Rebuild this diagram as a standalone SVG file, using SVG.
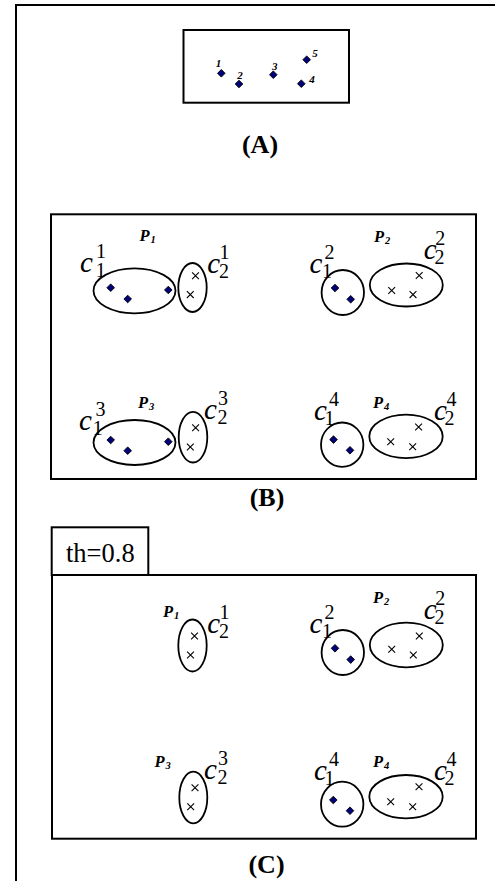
<svg xmlns="http://www.w3.org/2000/svg" xmlns:xlink="http://www.w3.org/1999/xlink" width="495" height="881" viewBox="0 0 495 881">
<style>
.fr{fill:none;stroke:#000;stroke-width:2}
.cl{fill:none;stroke:#000;stroke-width:1.8}
.d{fill:#00007a;stroke:#000;stroke-width:0.9}
.x{fill:none;stroke:#000;stroke-width:1.1}
text{font-family:"Liberation Serif","Times New Roman",serif;fill:#000}
.c{font-size:29px;font-style:italic}
.s{font-size:20px}
.P{font-size:16.5px;font-weight:bold;font-style:italic}
.Ps{font-size:10.5px;font-weight:bold;font-style:italic}
.lab{font-size:26px;font-weight:bold;text-anchor:middle}
.num{font-size:11px;font-weight:bold;font-style:italic;text-anchor:middle}
.th{font-size:26.5px}
</style>
<defs>
<polygon id="dm" class="d" points="0,-3.8 3.8,0 0,3.8 -3.8,0"/>
<path id="xm" class="x" d="M-3.4,-3.4L3.4,3.4M3.4,-3.4L-3.4,3.4"/>
</defs>
<rect width="495" height="881" fill="#fff"/>
<path class="fr" d="M16,881V5H495"/>

<g id="panelA">
<rect class="fr" x="183.5" y="30" width="165.5" height="72.7"/>
<use href="#dm" x="221.3" y="73.3"/>
<use href="#dm" x="239" y="84"/>
<use href="#dm" x="273.3" y="74.7"/>
<use href="#dm" x="301.3" y="83.7"/>
<use href="#dm" x="306.7" y="59.7"/>
<text class="num" x="218.5" y="67">1</text>
<text class="num" x="240" y="79">2</text>
<text class="num" x="274.7" y="70">3</text>
<text class="num" x="312" y="83">4</text>
<text class="num" x="315" y="57">5</text>
<text class="lab" x="260" y="153">(A)</text>
</g>

<g id="panelB">
<rect class="fr" x="51" y="214.3" width="425" height="264.7"/>
<g id="B-P1">
<text class="P" x="139.5" y="241">P</text><text class="Ps" x="150.5" y="243">1</text>
<ellipse class="cl" cx="134.5" cy="290.8" rx="41" ry="22.5"/>
<use href="#dm" x="110.7" y="287.7"/><use href="#dm" x="127.7" y="299"/><use href="#dm" x="168.3" y="290"/>
<text class="c" x="80" y="272">c</text><text class="s" x="96.1" y="258">1</text><text class="s" x="95.8" y="277">1</text>
<ellipse class="cl" cx="192.5" cy="287.5" rx="14.2" ry="24.5"/>
<use href="#xm" x="195.5" y="275.8"/><use href="#xm" x="190.3" y="294.6"/>
<text class="c" x="207.3" y="272.5">c</text><text class="s" x="219.5" y="258.5">1</text><text class="s" x="218.9" y="277.5">2</text>
</g>
<g id="B-P2">
<text class="P" x="374" y="242">P</text><text class="Ps" x="385" y="244">2</text>
<ellipse class="cl" cx="342.8" cy="292.5" rx="21.2" ry="22.5"/>
<use href="#dm" x="335" y="288"/><use href="#dm" x="350.7" y="299.3"/>
<text class="c" x="309.5" y="272.5">c</text><text class="s" x="324.4" y="258.5">2</text><text class="s" x="322" y="277.5">1</text>
<ellipse class="cl" cx="406.3" cy="285" rx="36.5" ry="21.5"/>
<use href="#xm" x="419.2" y="275.5"/><use href="#xm" x="391.7" y="290.5"/><use href="#xm" x="413" y="294.6"/>
<text class="c" x="423.7" y="259">c</text><text class="s" x="435.3" y="245">2</text><text class="s" x="434.4" y="264">2</text>
</g>
<g id="B-P3">
<text class="P" x="138" y="408.3">P</text><text class="Ps" x="149" y="410.3">3</text>
<ellipse class="cl" cx="134.5" cy="442.5" rx="41" ry="22.5"/>
<use href="#dm" x="110.7" y="440"/><use href="#dm" x="127.7" y="450.7"/><use href="#dm" x="168.3" y="441.7"/>
<text class="c" x="79" y="430">c</text><text class="s" x="95.5" y="416">3</text><text class="s" x="92.8" y="435">1</text>
<ellipse class="cl" cx="193" cy="437.2" rx="14.3" ry="25.3"/>
<use href="#xm" x="195.6" y="427.7"/><use href="#xm" x="190.3" y="447"/>
<text class="c" x="204" y="419">c</text><text class="s" x="218" y="405">3</text><text class="s" x="217.4" y="424">2</text>
</g>
<g id="B-P4">
<text class="P" x="373" y="408">P</text><text class="Ps" x="384" y="410">4</text>
<ellipse class="cl" cx="342.2" cy="444.7" rx="21.2" ry="22.2"/>
<use href="#dm" x="333.5" y="439.6"/><use href="#dm" x="350" y="450.3"/>
<text class="c" x="314" y="419.5">c</text><text class="s" x="329" y="405.5">4</text><text class="s" x="324.5" y="424.5">1</text>
<ellipse class="cl" cx="406" cy="436.4" rx="36.7" ry="21.8"/>
<use href="#xm" x="418.6" y="427"/><use href="#xm" x="390.7" y="441.7"/><use href="#xm" x="412.7" y="446.7"/>
<text class="c" x="434" y="420.3">c</text><text class="s" x="446.5" y="406.3">4</text><text class="s" x="444.4" y="425.3">2</text>
</g>
<text class="lab" x="267" y="506">(B)</text>
</g>

<g id="panelC">
<rect class="fr" x="51.7" y="527.3" width="96.6" height="47.7"/>
<text class="th" x="66" y="562">th=0.8</text>
<rect class="fr" x="52" y="575" width="424" height="263.7"/>
<g id="C-P1">
<text class="P" x="163" y="617.3">P</text><text class="Ps" x="174" y="619.3">1</text>
<ellipse class="cl" cx="192.5" cy="645.5" rx="14.2" ry="26"/>
<use href="#xm" x="194.5" y="636"/><use href="#xm" x="190.5" y="655"/>
<text class="c" x="207.3" y="632.5">c</text><text class="s" x="219.5" y="618.5">1</text><text class="s" x="218.9" y="637.5">2</text>
</g>
<g id="C-P2">
<text class="P" x="373" y="603.3">P</text><text class="Ps" x="384" y="605.3">2</text>
<ellipse class="cl" cx="342.8" cy="652.5" rx="21.2" ry="22.5"/>
<use href="#dm" x="335" y="648.3"/><use href="#dm" x="350.7" y="659.6"/>
<text class="c" x="309.5" y="632.5">c</text><text class="s" x="324.4" y="618.5">2</text><text class="s" x="322" y="637.5">1</text>
<ellipse class="cl" cx="406.3" cy="645" rx="36.5" ry="22.3"/>
<use href="#xm" x="419.3" y="636"/><use href="#xm" x="391.7" y="649.3"/><use href="#xm" x="413.3" y="655"/>
<text class="c" x="423.7" y="619">c</text><text class="s" x="435.3" y="605">2</text><text class="s" x="434.4" y="624">2</text>
</g>
<g id="C-P3">
<text class="P" x="154.5" y="767.3">P</text><text class="Ps" x="165.5" y="769.3">3</text>
<ellipse class="cl" cx="193.3" cy="797.5" rx="14" ry="25.8"/>
<use href="#xm" x="195" y="787.7"/><use href="#xm" x="190.7" y="806.7"/>
<text class="c" x="204" y="779">c</text><text class="s" x="218" y="765">3</text><text class="s" x="217.4" y="784">2</text>
</g>
<g id="C-P4">
<text class="P" x="373" y="766.7">P</text><text class="Ps" x="384" y="768.7">4</text>
<ellipse class="cl" cx="342.2" cy="804.2" rx="21.2" ry="22.5"/>
<use href="#dm" x="333.3" y="800"/><use href="#dm" x="350" y="810.7"/>
<text class="c" x="314" y="779.5">c</text><text class="s" x="329" y="765.5">4</text><text class="s" x="324.5" y="784.5">1</text>
<ellipse class="cl" cx="406" cy="796.7" rx="36.7" ry="21.7"/>
<use href="#xm" x="419" y="786.7"/><use href="#xm" x="390.7" y="801.7"/><use href="#xm" x="412.7" y="806.7"/>
<text class="c" x="434" y="780.3">c</text><text class="s" x="446.5" y="766.3">4</text><text class="s" x="444.4" y="785.3">2</text>
</g>
<text class="lab" x="266.5" y="873">(C)</text>
</g>

<g id="connectors"></g>
</svg>
